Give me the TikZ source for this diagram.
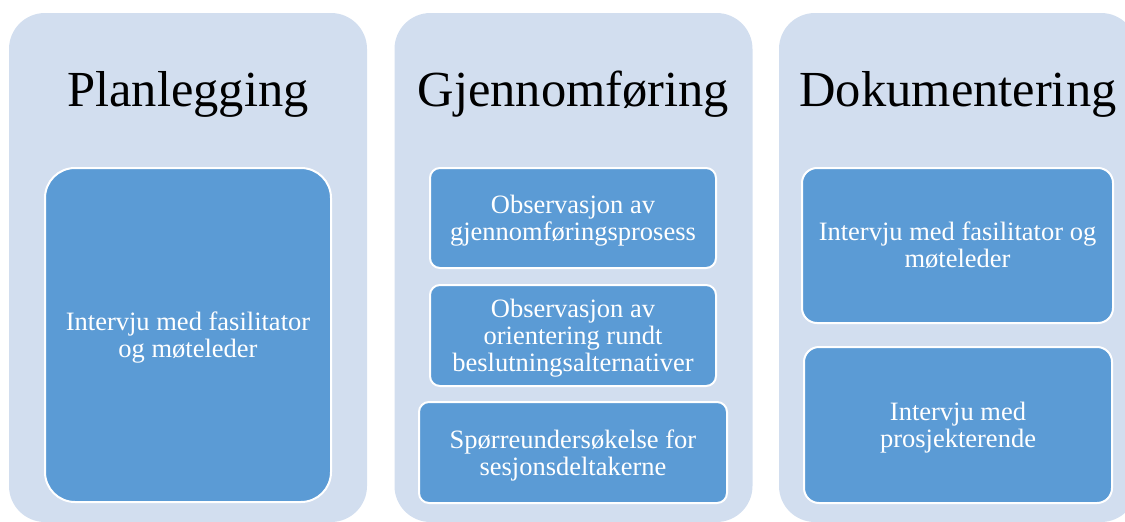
\documentclass[tikz,border=0pt]{standalone}
\usepackage{fontspec}
\setmainfont{Liberation Serif}
\definecolor{panelfill}{HTML}{D2DEEF}
\definecolor{boxfill}{HTML}{5B9BD5}
\begin{document}
\begin{tikzpicture}[x=1pt,y=-1pt,
  panel/.style={rectangle, rounded corners=36pt, fill=panelfill, inner sep=0pt,
    minimum width=358pt, minimum height=509pt},
  title/.style={anchor=base, inner sep=0pt, font=\fontsize{50.5}{55}\selectfont},
  item/.style={rectangle, fill=boxfill, draw=white, line width=2pt, inner sep=0pt,
    text=white, align=center, font=\fontsize{26.5}{27}\selectfont},
  label/.style={text=white, align=center, inner sep=0pt, yshift=-3pt,
    font=\fontsize{26.5}{27}\selectfont}]
\useasboundingbox (0,0) rectangle (1125,522);
\clip (0,0) rectangle (1125,522);

% phase columns
\node[panel] (p1) at (188,267.5) {};
\node[panel] (p2) at (573.5,267.5) {};
\node[panel] (p3) at (958,267.5) {};

% phase titles
\node[title] (t1) at (188,106) {Planlegging};
\node[title] (t2) at (573.5,106) {Gjennomføring};
\node[title] (t3) at (958,106) {Dokumentering};

% planning
\node[item, rounded corners=30pt, minimum width=286pt, minimum height=334pt]
  (a1) at (188,335) {};
\node[label] (a1t) at (a1.center) {Intervju med fasilitator\\og møteleder};

% execution
\node[item, rounded corners=10pt, minimum width=286pt, minimum height=100pt]
  (b1) at (573,218) {};
\node[label] (b1t) at (b1.center) {Observasjon av\\gjennomføringsprosess};
\node[item, rounded corners=10pt, minimum width=286pt, minimum height=101pt]
  (b2) at (573,335.5) {};
\node[label] (b2t) at (b2.center) {Observasjon av\\orientering rundt\\beslutningsalternativer};
\node[item, rounded corners=10pt, minimum width=308pt, minimum height=101pt]
  (b3) at (573,452.5) {};
\node[label] (b3t) at (b3.center) {Spørreundersøkelse for\\sesjonsdeltakerne};

% documentation
\node[item, rounded corners=15pt, minimum width=311pt, minimum height=155pt]
  (c1) at (957.5,245.5) {};
\node[label, yshift=3pt] (c1t) at (c1.center) {Intervju med fasilitator og\\møteleder};
\node[item, rounded corners=15pt, minimum width=308pt, minimum height=156pt]
  (c2) at (958,425) {};
\node[label] (c2t) at (c2.center) {Intervju med\\prosjekterende};
\end{tikzpicture}
\end{document}
